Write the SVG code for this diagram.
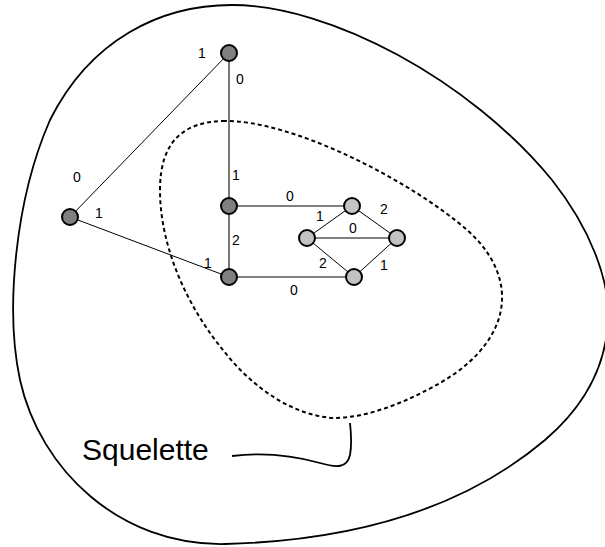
<svg xmlns="http://www.w3.org/2000/svg" width="605" height="547" viewBox="0 0 605 547">
<style>
.outer{fill:none;stroke:#000;stroke-width:1.8}
.skel{fill:none;stroke:#000;stroke-width:2;stroke-dasharray:4 3}
.thin{stroke:#000;stroke-width:1}
.gray{stroke:#555;stroke-width:1.6}
.dk{fill:#808080;stroke:#000;stroke-width:2}
.lt{fill:#c3c3c3;stroke:#000;stroke-width:2}
.lbl{font-family:"Liberation Sans",Arial,sans-serif;font-size:14px;fill:#000;text-anchor:middle}
.title{font-family:"Liberation Sans",Arial,sans-serif;font-size:30px;fill:#000}
</style>
<rect width="605" height="547" fill="#fff"/>
<path class="outer" d="M232,5 C330,5 470,80 552,180 C590,228 610,280 608,320 C606,370 580,410 545,440 C480,495 380,540 225,544 C120,546 40,470 20,380 C5,310 15,200 50,120 C90,40 160,5 232,5 Z"/>
<path class="skel" d="M223,121 C290,119 410,180 467,230 C490,250 503,275 502,300 C501,330 480,360 440,383 C410,400 370,418 333,418 C290,415 250,385 223,350 C190,310 160,250 160,190 C160,140 185,122 223,121 Z"/>
<path fill="none" stroke="#000" stroke-width="1.8" d="M232,456 C265,452 295,456 320,463 C337,468 347,468 350,455 C352,444 351,432 350,423"/>
<text class="title" x="82" y="460">Squelette</text>
<g id="connectors">
<line class="thin" x1="229" y1="53" x2="70" y2="217"/>
<line class="thin" x1="70" y1="217" x2="229" y2="277"/>
<line class="gray" x1="229" y1="53" x2="229" y2="206"/>
<line class="gray" x1="229" y1="206" x2="229" y2="277"/>
<line class="gray" x1="229" y1="206" x2="352" y2="206"/>
<line class="gray" x1="229" y1="277" x2="354" y2="277"/>
<line class="thin" x1="352" y1="206" x2="307" y2="238"/>
<line class="thin" x1="352" y1="206" x2="397" y2="238"/>
<line class="thin" x1="307" y1="238" x2="397" y2="238"/>
<line class="thin" x1="307" y1="238" x2="354" y2="277"/>
<line class="thin" x1="354" y1="277" x2="397" y2="238"/>
</g>
<g id="labels">
<text class="lbl" x="202" y="58">1</text>
<text class="lbl" x="240" y="84">0</text>
<text class="lbl" x="77" y="182">0</text>
<text class="lbl" x="99" y="218">1</text>
<text class="lbl" x="236" y="180">1</text>
<text class="lbl" x="290" y="201">0</text>
<text class="lbl" x="236" y="245">2</text>
<text class="lbl" x="208" y="268">1</text>
<text class="lbl" x="320" y="221">1</text>
<text class="lbl" x="384" y="214">2</text>
<text class="lbl" x="353" y="233">0</text>
<text class="lbl" x="323" y="268">2</text>
<text class="lbl" x="384" y="270">1</text>
<text class="lbl" x="294" y="295">0</text>
</g>
<g id="nA"><circle class="dk" cx="229" cy="53" r="8"/></g>
<g id="nB"><circle class="dk" cx="70" cy="217" r="8"/></g>
<g id="nC"><circle class="dk" cx="229" cy="206" r="8"/></g>
<g id="nD"><circle class="dk" cx="229" cy="277" r="8"/></g>
<g id="nE"><circle class="lt" cx="352" cy="206" r="8"/></g>
<g id="nF"><circle class="lt" cx="307" cy="238" r="8"/></g>
<g id="nG"><circle class="lt" cx="397" cy="238" r="8"/></g>
<g id="nH"><circle class="lt" cx="354" cy="277" r="8"/></g>
</svg>
